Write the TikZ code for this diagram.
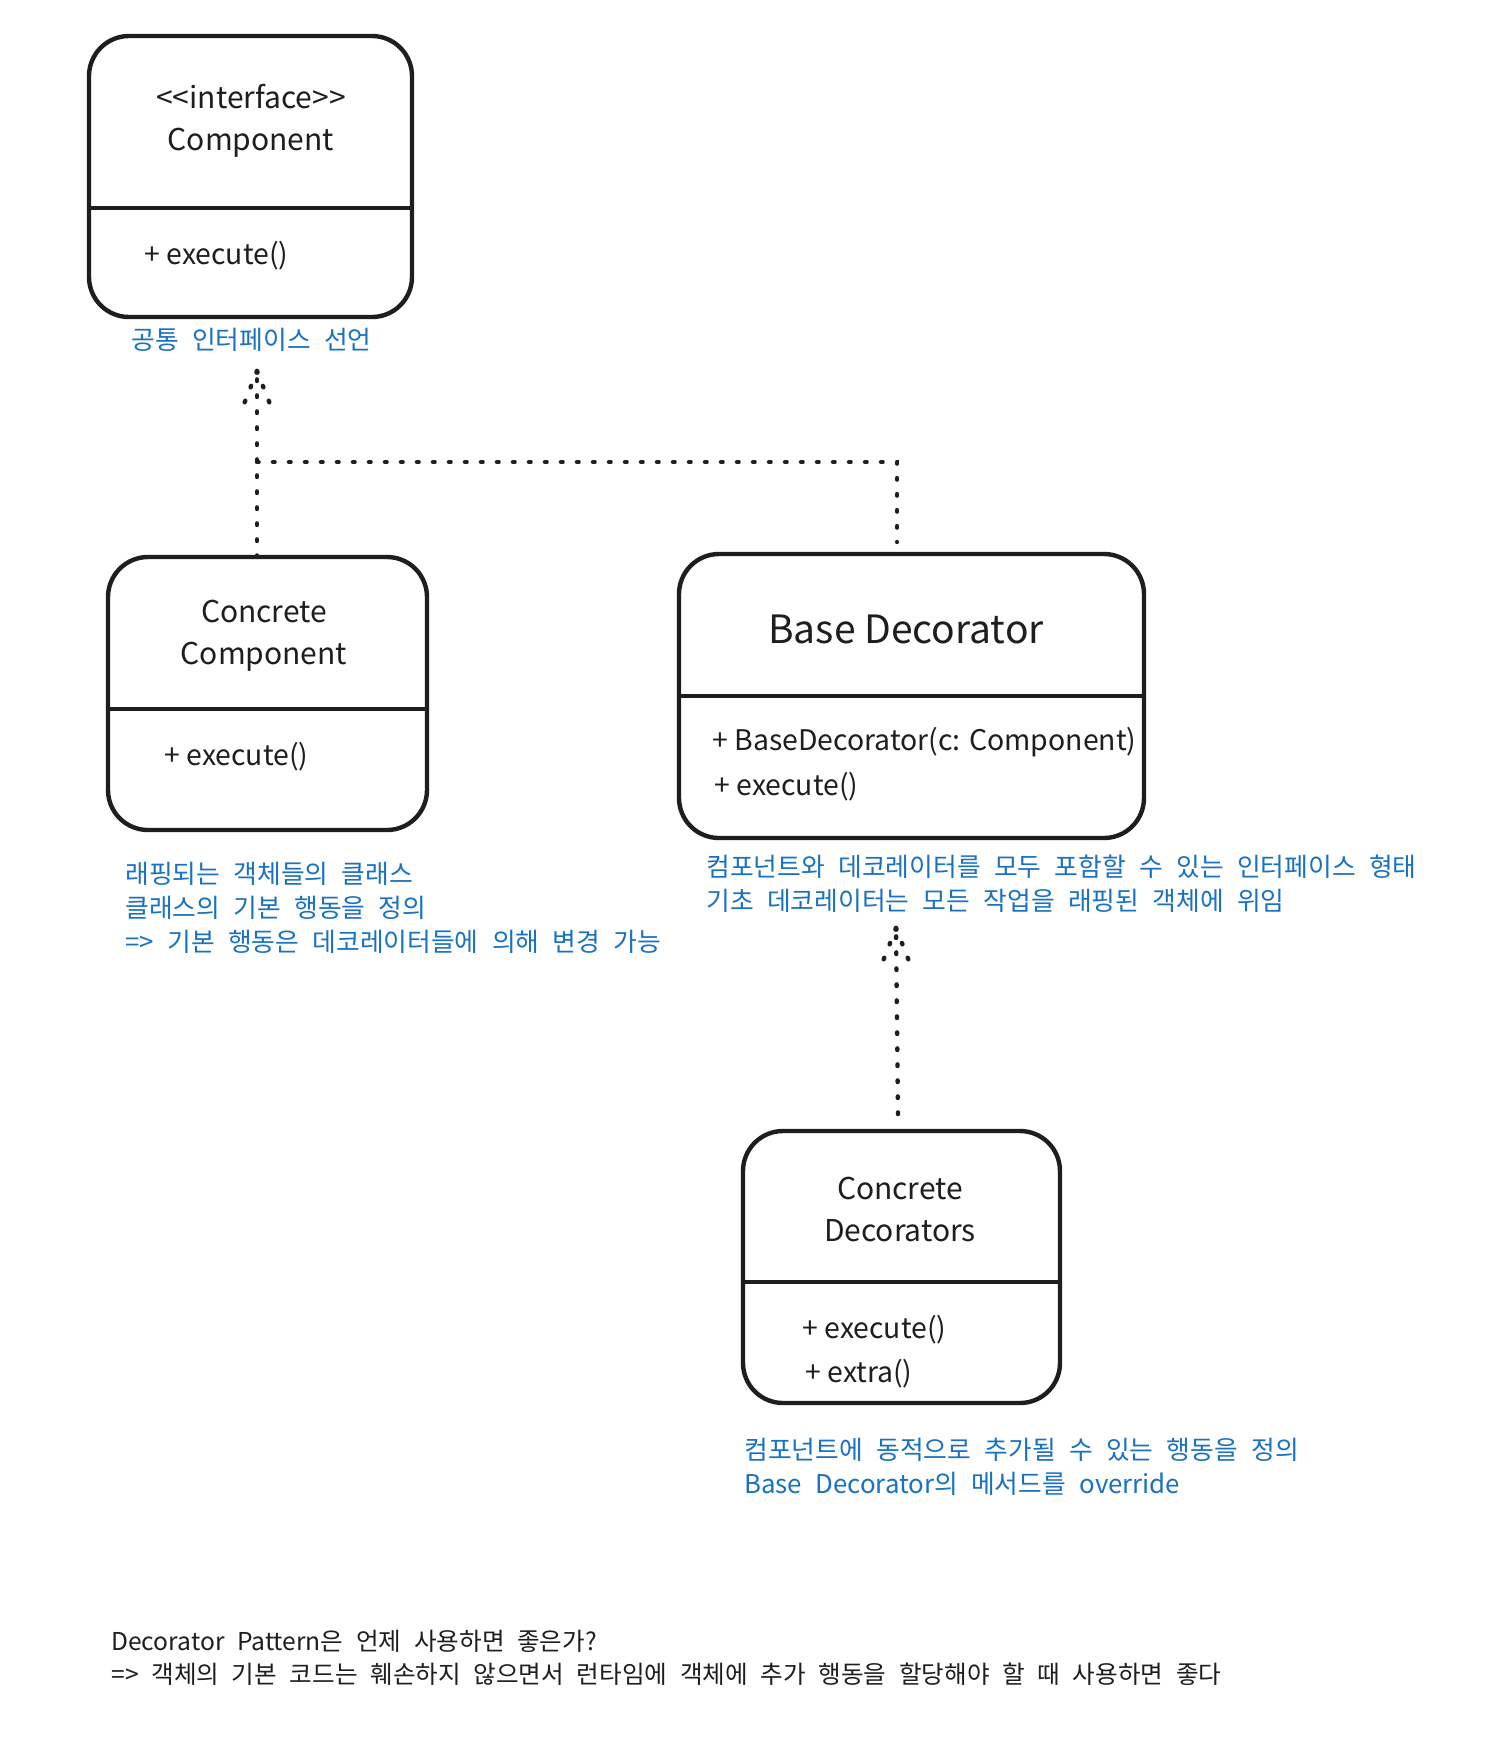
\documentclass[tikz,border=0pt]{standalone}
\usepackage{fontspec}
\setmainfont[WordSpace=2.3]{Noto Sans CJK KR}
\newfontfamily\latinfont{Noto Sans CJK KR}
\definecolor{ink}{HTML}{1E1E1E}
\definecolor{note}{HTML}{1971C2}
\begin{document}
\begin{tikzpicture}[x=0.5pt, y=-0.5pt,
  classbox/.style={draw=ink, line width=2.2pt, rounded corners=20pt, inner sep=0pt, outer sep=0pt},
  classname/.style={text=ink, font=\latinfont\fontsize{15}{21}\selectfont, align=center, inner sep=0pt},
  member/.style={text=ink, font=\latinfont\fontsize{14.2}{20}\selectfont, anchor=west, inner sep=0pt},
  memo/.style={text=note, font=\fontsize{12.9}{17}\selectfont, align=left, anchor=west, inner sep=0pt},
  dep/.style={draw=ink, line width=2.2pt, line cap=round, dash pattern=on 0.8pt off 7.2pt}]
\useasboundingbox (0,0) rectangle (1488,1746);
\fill[white] (0,0) rectangle (1488,1746);
\node[classbox, minimum width=161.5pt, minimum height=140.5pt] (iface) at (250.5,176.5) {};
\draw[ink, line width=2.2pt] (iface.north west) ++(0,172) -- ++(323,0);
\node[classname] (ifaceT) at (251,121) {<\kern0pt<interface>\kern0pt>\\Component};
\node[member] (ifaceM) at (144,256) {+ execute()};
\node[memo] (ifaceN) at (131,340) {공통 인터페이스 선언};
\node[classbox, minimum width=159.5pt, minimum height=136.5pt] (ccomp) at (267.5,693.5) {};
\draw[ink, line width=2.2pt] (ccomp.north west) ++(0,152) -- ++(321,0);
\node[classname] (ccompT) at (264,636) {Concrete\\Component};
\node[member] (ccompM) at (164,757) {+ execute()};
\node[memo] (ccompN) at (125,908) {래핑되는 객체들의 클래스\\클래스의 기본 행동을 정의\\=> 기본 행동은 데코레이터들에 의해 변경 가능};
\node[classbox, minimum width=232.5pt, minimum height=142pt] (based) at (911.5,696) {};
\draw[ink, line width=2.2pt] (based.north west) ++(0,142) -- ++(465,0);
\node[classname, font=\latinfont\fontsize{19.5}{25}\selectfont] (basedT) at (906,629) {Base Decorator};
\node[member] (basedM1) at (712,742) {+ BaseDecorator(c: Component)};
\node[member] (basedM2) at (714,787) {+ execute()};
\node[memo] (basedN) at (706,883.5) {컴포넌트와 데코레이터를 모두 포함할 수 있는 인터페이스 형태\\기초 데코레이터는 모든 작업을 래핑된 객체에 위임};
\node[classbox, minimum width=158.5pt, minimum height=136pt] (cdeco) at (901.5,1267) {};
\draw[ink, line width=2.2pt] (cdeco.north west) ++(0,151) -- ++(317,0);
\node[classname] (cdecoT) at (900,1209) {Concrete\\Decorators};
\node[member] (cdecoM1) at (802,1330) {+ execute()};
\node[member] (cdecoM2) at (805,1374) {+ extra()};
\node[memo] (cdecoN) at (744,1466.5) {컴포넌트에 동적으로 추가될 수 있는 행동을 정의\\Base Decorator의 메서드를 override};
\node[memo, text=ink, font=\fontsize{12.3}{16.2}\selectfont] (usage) at (111,1658) {Decorator Pattern은 언제 사용하면 좋은가?\\=> 객체의 기본 코드는 훼손하지 않으면서 런타임에 객체에 추가 행동을 할당해야 할 때 사용하면 좋다};
\coordinate (tipA) at (257,371);
\coordinate (joinA) at (257,462);
\coordinate (dropA) at (897,542);
\draw[dep] (ccomp.north -| tipA) -- (tipA);
\draw[dep] (joinA) -| (dropA);
\draw[dep] (tipA) -- ++(-15,38);
\draw[dep] (tipA) -- ++(15,38);
\coordinate (tipB) at (896,928);
\coordinate (tailB) at (898,1114);
\draw[dep] (tailB) -- (tipB);
\draw[dep] (tipB) -- ++(-15,38);
\draw[dep] (tipB) -- ++(15,38);
\end{tikzpicture}
\end{document}
